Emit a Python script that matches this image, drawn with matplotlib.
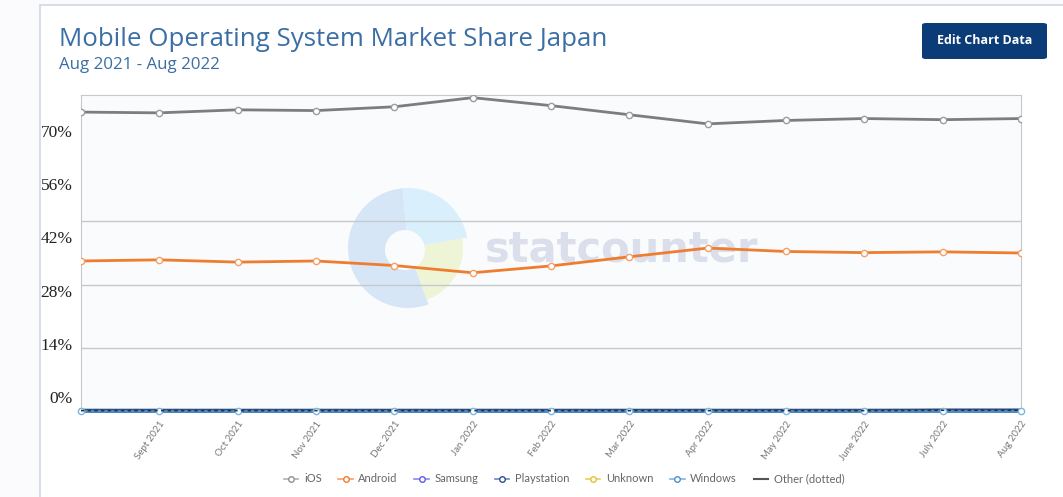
import numpy as np
import matplotlib.pyplot as plt
from matplotlib.patches import Rectangle, Wedge, Circle, FancyBboxPatch
from matplotlib.lines import Line2D
from matplotlib.transforms import ScaledTranslation, IdentityTransform

months = ["Aug 2021", "Sept 2021", "Oct 2021", "Nov 2021", "Dec 2021", "Jan 2022",
          "Feb 2022", "Mar 2022", "Apr 2022", "May 2022", "June 2022", "July 2022", "Aug 2022"]
ios = [78.7, 78.5, 79.3, 79.1, 80.1, 82.5, 80.4, 78.0, 75.6, 76.5, 77.0, 76.7, 77.0]
android = [39.5, 39.8, 39.2, 39.5, 38.3, 36.4, 38.2, 40.6, 42.9, 42.0, 41.7, 41.9, 41.6]
samsung = [0.1, 0.1, 0.1, 0.1, 0.1, 0.1, 0.1, 0.1, 0.1, 0.1, 0.1, 0.2, 0.2]
playstation = [0.05, 0.05, 0.05, 0.05, 0.05, 0.05, 0.05, 0.05, 0.05, 0.05, 0.05, 0.1, 0.1]
unknown = [0.02] * 13
windows = [0.02] * 13
other = [0.1, 0.1, 0.1, 0.1, 0.1, 0.1, 0.1, 0.1, 0.1, 0.1, 0.1, 0.2, 0.2]
yticks = [0, 14, 28, 42, 56, 70]
gridvals = [16.6, 33.2, 49.9]

W, H = 1063, 497
fig = plt.figure(figsize=(W/100, H/100), dpi=100)
fig.patch.set_facecolor("#fbfbfd")

# card
fig.add_artist(Rectangle((40/W, -0.1), 1.2, (H-5)/H + 0.1, transform=fig.transFigure,
                         facecolor="white", edgecolor="#cfd8e3", lw=1.2, zorder=-5))

fig.text(59/W, 1-39/H, "Mobile Operating System Market Share Japan", fontsize=18.6,
         color="#3a6ea5", family="Open Sans", va="center", ha="left")
fig.text(59/W, 1-65/H, "Aug 2021 - Aug 2022", fontsize=12.2, color="#3a6ea5",
         family="Open Sans", va="center", ha="left")

fig.add_artist(FancyBboxPatch((922/W, 1-59/H), 125/W, 36/H, boxstyle="round,pad=0,rounding_size=0.004",
                              transform=fig.transFigure, facecolor="#0b3c78", edgecolor="none"))
fig.text(984.5/W, 1-41/H, "Edit Chart Data", fontsize=9, color="white", weight="bold",
         family="Open Sans", ha="center", va="center")

ax = fig.add_axes([81/W, 1-411/H, (1021-81)/W, (411-95)/H])
ax.set_facecolor("#fafbfd")
x = np.arange(len(months))

# watermark
wm = IdentityTransform()
cx, cy = 408, H-248
ax.add_patch(Wedge((cx, cy), 60, 95, 290, facecolor="#d6e6f6", edgecolor="none", transform=wm, clip_on=False, zorder=0))
ax.add_patch(Wedge((cx, cy), 60, 10, 95, facecolor="#d9effb", edgecolor="none", transform=wm, clip_on=False, zorder=0))
ax.add_patch(Wedge((cx, cy), 55, -70, 10, facecolor="#eef4d6", edgecolor="none", transform=wm, clip_on=False, zorder=0))
ax.add_patch(Circle((cx-3, cy-2), 20, facecolor="#fafbfd", edgecolor="none", transform=wm, clip_on=False, zorder=0))
ax.text(485, H-250, "statcounter", fontsize=30, weight="bold", color="#dadfeb",
        family="DejaVu Sans", va="center", ha="left", zorder=0.5, transform=wm)

ax.set_xlim(0, len(months)-1)
ax.set_ylim(0, 83.2)
for g in gridvals:
    ax.axhline(g, color="#c4c8cf", lw=1, zorder=1)

mk = dict(marker="o", markersize=4.5, markerfacecolor="white", markeredgewidth=1)
ax.plot(x, ios, color="#7b7d7f", lw=2, markeredgecolor="#9a9c9e", zorder=3, **mk)
ax.plot(x, android, color="#ef7d2f", lw=2, markeredgecolor="#f2a06a", zorder=3, **mk)
ax.plot(x, unknown, color="#e6c229", lw=2, zorder=3, clip_on=False)
ax.plot(x, samsung, color="#5b5be8", lw=2, zorder=3, clip_on=False)
ax.plot(x, playstation, color="#2e4f8a", lw=3, zorder=3, clip_on=False)
ax.plot(x, windows, color="#4f8fc9", lw=2, zorder=3, markeredgecolor="#7fb6e0", clip_on=False, **mk)
ax.plot(x, other, color="#2b3440", lw=1.2, ls=(0, (2, 2)), zorder=4, clip_on=False)

for s in ["left", "right", "top"]:
    ax.spines[s].set_color("#c4c8cf")
ax.spines["bottom"].set_visible(False)

ax.set_xticks(x)
ax.set_xticklabels([""] + months[1:], rotation=55, ha="right", va="top",
                   rotation_mode="anchor", fontsize=7, color="#777777", family="Lato")
ax.tick_params(axis="x", length=0, pad=6)
ax.set_yticks(yticks)
ax.set_yticklabels([f"{v}%" for v in yticks], fontsize=12.5, family="Liberation Serif", color="#222222")
ax.tick_params(axis="y", length=0, pad=6)
for lab in ax.get_yticklabels():
    lab.set_transform(lab.get_transform() + ScaledTranslation(0, 14/100, fig.dpi_scale_trans))

def h(c, ec):
    return Line2D([], [], color=c, lw=1.2, marker="o", markersize=4, markerfacecolor="white",
                  markeredgecolor=ec, markeredgewidth=1)
handles = [h("#b0b0b0", "#909090"), h("#f2a06a", "#ef7d2f"), h("#8a8af0", "#5b5be8"),
           h("#6a86c0", "#2e4f8a"), h("#e8cf60", "#e6c229"), h("#7fb6e0", "#4f8fc9"),
           Line2D([], [], color="#555555", lw=1.5)]
names = ["iOS", "Android", "Samsung", "Playstation", "Unknown", "Windows", "Other (dotted)"]
leg = fig.legend(handles, names, loc="center", bbox_to_anchor=(564/W, 1-479/H), ncol=7,
                 frameon=False, handlelength=1.3, handletextpad=0.5, columnspacing=1.5,
                 prop={"family": "Lato", "size": 8})
for t in leg.get_texts():
    t.set_color("#666666")

fig.savefig("out.png", dpi=100, facecolor=fig.get_facecolor())
